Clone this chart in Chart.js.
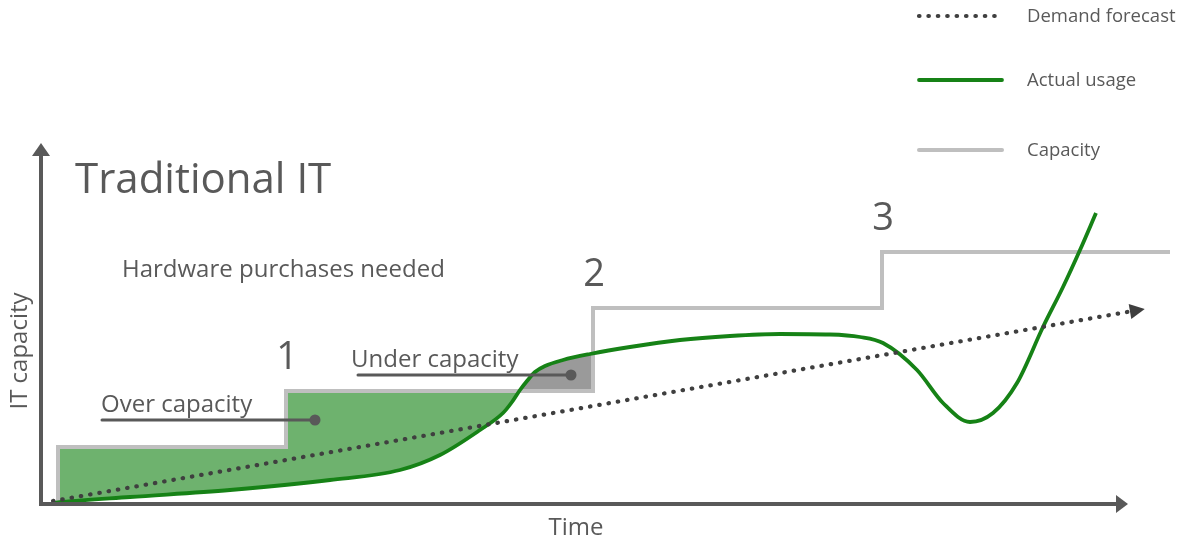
<!DOCTYPE html>
<html>
<head>
<meta charset="utf-8">
<script src="https://cdn.jsdelivr.net/npm/chart.js@4.4.1/dist/chart.umd.min.js"></script>
<style>
  html, body { margin: 0; padding: 0; background: #ffffff; }
  #wrap { width: 1181px; height: 542px; position: relative; }
</style>
</head>
<body>
<div id="wrap"><canvas id="chart" width="1181" height="542"></canvas></div>
<script>
// Actual usage over time (time units, capacity units)
const usageTime  = [1.2, 2.1, 8.9, 18.9, 28.9, 35.9, 39.9, 43.9, 46.2, 47.1, 47.9, 48.6, 49.4, 50.4, 52.2, 54.9, 58.9, 63.9, 68.9, 73.9, 78.9, 81.9, 84.2, 87.6, 90.2, 92.9, 95.2, 97.6, 100.2, 102.2, 103.9, 105.5];
const usageLevel = [0.2, 0.4, 1.4, 2.8, 4.8, 6.8, 9.8, 14.8, 18.2, 20.4, 22.8, 24.6, 26.4, 27.6, 28.8, 30.0, 31.4, 32.8, 33.6, 34.0, 33.9, 33.4, 32.2, 26.8, 20.2, 16.4, 18.2, 24.2, 35.4, 43.4, 50.8, 58.2];

// Installed capacity: each point ends a level and starts the next purchase
const capacityTime  = [1.7, 1.7, 24.5, 55.2, 84.1, 112.9];
const capacityLevel = [0, 11.4, 22.6, 39.2, 50.4, 50.4];

// Straight-line demand forecast
const forecastTime  = [1.2, 108.9];
const forecastLevel = [0.6, 38.5];

// Shaded regions: over capacity until usage meets the capacity line
const overStartTime = 1.2;
const crossoverTime = 47.8;

const seriesNames = ['Demand forecast', 'Actual usage', 'Capacity'];
const stepLabels  = ['1', '2', '3'];
const axisTimeEnd = 108.7;

// Callout anchors (data units)
const overCallout  = { text: 'Over capacity',  time: 27.4, level: 16.8, textShift: -1 };
const underCallout = { text: 'Under capacity', time: 53.0, level: 25.8, textShift: -7 };

const ink = '#595959';
const usageGreen = '#168216';
const capacityGrey = '#bfbfbf';
const fontFamily = '"Open Sans", "Noto Sans", sans-serif';
const font = (size) => `${size}px ${fontFamily}`;

const pts = (xs, ys) => xs.map((t, i) => ({ x: t, y: ys[i] }));

// Capacity steps clipped to a time window, used as the edge of a shaded area
function capacityBetween(t0, t1) {
  const out = [];
  for (let i = 1; i < capacityTime.length; i++) {
    const start = capacityTime[i];
    const end = i + 1 < capacityTime.length ? capacityTime[i + 1] : Infinity;
    if (end <= t0 || start >= t1) continue;
    out.push({ x: Math.max(start, t0), y: capacityLevel[i] });
  }
  out.push({ x: t1, y: out[out.length - 1].y });
  return out;
}

const datasets = [
  {
    label: seriesNames[0],
    data: pts(forecastTime, forecastLevel),
    borderColor: '#3f3f3f',
    borderWidth: 4.2,
    borderDash: [0.5, 8.9],
    borderCapStyle: 'round',
    pointRadius: 0,
    fill: false,
    order: 0
  },
  {
    label: seriesNames[1],
    data: pts(usageTime, usageLevel),
    borderColor: usageGreen,
    borderWidth: 3.8,
    cubicInterpolationMode: 'monotone',
    pointRadius: 0,
    fill: false,
    order: 1
  },
  {
    label: seriesNames[2],
    data: pts(capacityTime, capacityLevel),
    borderColor: capacityGrey,
    borderWidth: 4,
    stepped: 'before',
    borderJoinStyle: 'miter',
    pointRadius: 0,
    fill: false,
    order: 2
  },
  {
    label: 'over',
    data: capacityBetween(overStartTime, crossoverTime),
    stepped: 'before',
    borderColor: 'transparent',
    borderWidth: 0,
    pointRadius: 0,
    backgroundColor: '#6eb26e',
    fill: { target: 1, above: '#6eb26e', below: '#6eb26e' },
    order: 4
  },
  {
    label: 'under',
    data: capacityBetween(crossoverTime, capacityTime[3]),
    stepped: 'before',
    borderColor: 'transparent',
    borderWidth: 0,
    pointRadius: 0,
    backgroundColor: '#9a9a9a',
    fill: { target: 1, above: '#9a9a9a', below: '#9a9a9a' },
    order: 3
  }
];

// Axes, titles, step numbers, callouts and the legend
const diagram = {
  id: 'diagram',
  afterDatasetsDraw(chart) {
    const { ctx, chartArea: a, scales: { x, y } } = chart;
    ctx.save();

    // forecast arrowhead
    const f0 = { x: x.getPixelForValue(forecastTime[0]), y: y.getPixelForValue(forecastLevel[0]) };
    const f1 = { x: x.getPixelForValue(forecastTime[1]), y: y.getPixelForValue(forecastLevel[1]) };
    const ang = Math.atan2(f1.y - f0.y, f1.x - f0.x);
    const ux = Math.cos(ang), uy = Math.sin(ang);
    ctx.fillStyle = '#3f3f3f';
    ctx.beginPath();
    ctx.moveTo(f1.x + ux * 15, f1.y + uy * 15);
    ctx.lineTo(f1.x - uy * 7.5, f1.y + ux * 7.5);
    ctx.lineTo(f1.x + uy * 7.5, f1.y - ux * 7.5);
    ctx.closePath();
    ctx.fill();

    // axes with arrowheads
    const ox = a.left, oy = y.getPixelForValue(0);
    const xTip = x.getPixelForValue(axisTimeEnd);
    const yTip = a.top - 1;
    ctx.strokeStyle = ink;
    ctx.fillStyle = ink;
    ctx.lineWidth = 4;
    ctx.lineCap = 'square';
    ctx.beginPath();
    ctx.moveTo(ox, yTip + 10);
    ctx.lineTo(ox, oy);
    ctx.lineTo(xTip - 10, oy);
    ctx.stroke();
    ctx.beginPath();
    ctx.moveTo(ox, yTip);
    ctx.lineTo(ox - 9, yTip + 13);
    ctx.lineTo(ox + 9, yTip + 13);
    ctx.closePath();
    ctx.fill();
    ctx.beginPath();
    ctx.moveTo(xTip, oy);
    ctx.lineTo(xTip - 12, oy - 9);
    ctx.lineTo(xTip - 12, oy + 9);
    ctx.closePath();
    ctx.fill();

    // axis titles
    ctx.fillStyle = ink;
    ctx.textBaseline = 'alphabetic';
    ctx.font = font(24);
    ctx.textAlign = 'center';
    ctx.fillText('Time', (a.left + xTip) / 2 - 8.5, oy + 31);
    ctx.save();
    ctx.translate(a.left - 14, (a.top + oy) / 2 + 27);
    ctx.rotate(-Math.PI / 2);
    ctx.fillText('IT capacity', 0, 0);
    ctx.restore();

    // headline texts
    ctx.textAlign = 'left';
    ctx.font = font(42);
    ctx.fillText('Traditional IT', a.left + 34, a.top + 49);
    ctx.font = font(24);
    ctx.fillText('Hardware purchases needed', a.left + 81, a.top + 133);

    // purchase step numbers
    ctx.textAlign = 'center';
    ctx.font = font(38);
    stepLabels.forEach((lbl, i) => {
      const k = i + 2;
      ctx.fillText(lbl, x.getPixelForValue(capacityTime[k]) + 1, y.getPixelForValue(capacityLevel[k]) - 22);
    });

    // callouts
    [overCallout, underCallout].forEach((c) => {
      const px = x.getPixelForValue(c.time), py = y.getPixelForValue(c.level);
      const x0 = px - 213;
      ctx.strokeStyle = ink;
      ctx.lineWidth = 3;
      ctx.lineCap = 'round';
      ctx.beginPath();
      ctx.moveTo(x0, py);
      ctx.lineTo(px, py);
      ctx.stroke();
      ctx.beginPath();
      ctx.arc(px, py, 5.5, 0, Math.PI * 2);
      ctx.fill();
      ctx.textAlign = 'left';
      ctx.font = font(24);
      ctx.fillText(c.text, x0 + c.textShift, py - 8);
    });

    // legend
    const rows = [16, 80, 150];
    chart.data.datasets.slice(0, 3).forEach((ds, i) => {
      const ly = rows[i];
      ctx.save();
      ctx.strokeStyle = ds.borderColor;
      ctx.lineWidth = ds.borderWidth;
      ctx.lineCap = ds.borderCapStyle || 'round';
      ctx.setLineDash(ds.borderDash || []);
      ctx.beginPath();
      ctx.moveTo(919, ly);
      ctx.lineTo(1002, ly);
      ctx.stroke();
      ctx.restore();
      ctx.fillStyle = ink;
      ctx.textAlign = 'left';
      ctx.textBaseline = 'middle';
      ctx.font = font(18.5);
      ctx.fillText(ds.label, 1027, ly + 1);
    });

    ctx.restore();
  }
};

new Chart(document.getElementById('chart'), {
  type: 'line',
  data: { datasets },
  options: {
    responsive: false,
    animation: false,
    events: [],
    layout: { padding: { left: 41, top: 144, right: 10, bottom: 38 } },
    scales: {
      x: { type: 'linear', min: 0, max: 113, display: false },
      y: { type: 'linear', min: 0, max: 72, display: false }
    },
    plugins: {
      legend: { display: false },
      tooltip: { enabled: false }
    }
  },
  plugins: [diagram]
});
</script>
</body>
</html>
